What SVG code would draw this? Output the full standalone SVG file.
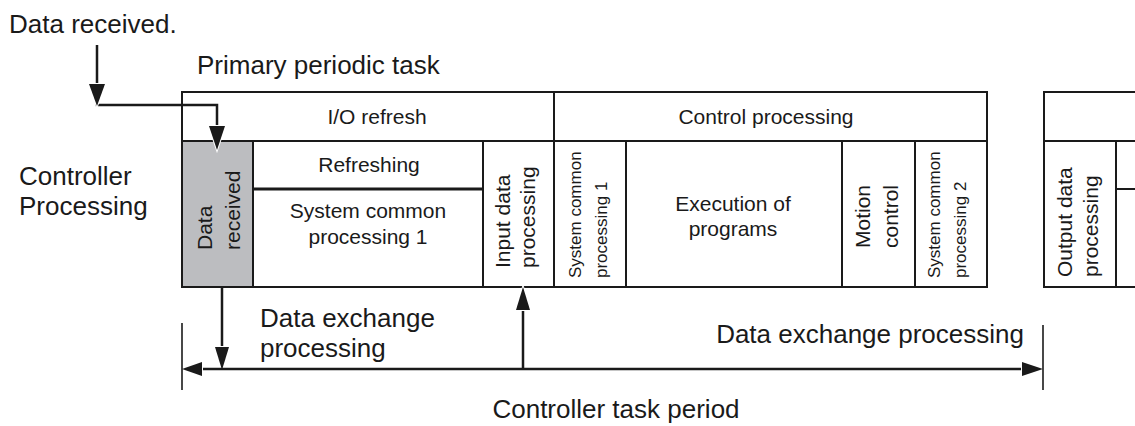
<svg xmlns="http://www.w3.org/2000/svg" width="1135" height="426" viewBox="0 0 1135 426">
<style>
text{font-family:"Liberation Sans",Arial,sans-serif;fill:#1a1a1a}
.big{font-size:26px}
.lbl{font-size:21px}
.sm{font-size:17px}
.c{text-anchor:middle}
.e{text-anchor:end}
.box{fill:#fff;stroke:#1a1a1a;stroke-width:2}
.gray{fill:#bcbdc0;stroke:#1a1a1a;stroke-width:2}
.ln{fill:none;stroke:#1a1a1a;stroke-width:2}
.cn{fill:none;stroke:#1a1a1a;stroke-width:2.5}
.tick{fill:none;stroke:#1a1a1a;stroke-width:1.6}
.ah{fill:#1a1a1a;stroke:#fff;stroke-width:2;paint-order:stroke}
</style>
<rect width="1135" height="426" fill="#fff"/>
<g id="labels">
<text class="big" x="9" y="33">Data received.</text>
<text class="big" x="197" y="74">Primary periodic task</text>
<text class="big" x="19" y="185">Controller</text>
<text class="big" x="19" y="215">Processing</text>
</g>
<g id="io-refresh">
<rect class="box" x="182" y="92" width="372" height="49"/>
<text class="lbl c" x="377" y="124">I/O refresh</text>
</g>
<g id="data-received">
<rect class="gray" x="182" y="141" width="71" height="146"/>
<text class="lbl" transform="translate(212,250) rotate(-90)">Data</text>
<text class="lbl" transform="translate(240,250) rotate(-90)">received</text>
</g>
<g id="refreshing">
<rect class="box" x="253" y="141" width="230" height="48"/>
<text class="lbl c" x="369" y="172">Refreshing</text>
</g>
<g id="system-common-1a">
<rect class="box" x="253" y="189" width="230" height="98"/>
<text class="lbl c" x="368" y="218">System common</text>
<text class="lbl c" x="368" y="244">processing 1</text>
</g>
<line x1="253" y1="189" x2="483" y2="189" stroke="#1a1a1a" stroke-width="3"/>
<g id="input-data">
<rect class="box" x="483" y="141" width="71" height="146"/>
<text class="lbl" transform="translate(510,268) rotate(-90)">Input data</text>
<text class="lbl" transform="translate(535,268) rotate(-90)">processing</text>
</g>
<g id="control-processing">
<rect class="box" x="554" y="92" width="433" height="49"/>
<text class="lbl c" x="766" y="124">Control processing</text>
</g>
<g id="system-common-1b">
<rect class="box" x="554" y="141" width="72" height="146"/>
<text class="sm" transform="translate(581,278) rotate(-90)">System common</text>
<text class="sm" transform="translate(607,278) rotate(-90)">processing 1</text>
</g>
<g id="execution">
<rect class="box" x="626" y="141" width="216" height="146"/>
<text class="lbl c" x="733" y="211">Execution of</text>
<text class="lbl c" x="733" y="236">programs</text>
</g>
<g id="motion-control">
<rect class="box" x="842" y="141" width="73" height="146"/>
<text class="lbl" transform="translate(870,248) rotate(-90)">Motion</text>
<text class="lbl" transform="translate(898,248) rotate(-90)">control</text>
</g>
<g id="system-common-2">
<rect class="box" x="915" y="141" width="72" height="146"/>
<text class="sm" transform="translate(940,278) rotate(-90)">System common</text>
<text class="sm" transform="translate(966,278) rotate(-90)">processing 2</text>
</g>
<g id="next-period">
<path class="ln" d="M1140,92 H1044 V287 H1140 M1044,141 H1140 M1116,141 V287 M1116,189 H1140"/>
<text class="lbl" transform="translate(1072,277) rotate(-90)">Output data</text>
<text class="lbl" transform="translate(1098,277) rotate(-90)">processing</text>
</g>
<g id="connectors">
<polyline class="cn" points="97,45 97,105 217,105 217,128"/>
<polygon class="ah" points="89,84 105,84 97,106"/>
<polygon class="ah" points="209,126 225,126 217,150"/>
<line class="cn" x1="222" y1="288" x2="222" y2="350"/>
<polygon class="ah" points="215,347 229,347 222,370"/>
<line class="cn" x1="523" y1="369" x2="523" y2="305"/>
<polygon class="ah" points="516,310 530,310 523,287"/>
<line class="cn" x1="195" y1="369" x2="1030" y2="369"/>
<polygon class="ah" points="182,369 202,362 202,376"/>
<polygon class="ah" points="1043,369 1022,362 1022,376"/>
<line class="tick" x1="182" y1="323" x2="182" y2="390"/>
<line class="tick" x1="1043" y1="325" x2="1043" y2="390"/>
</g>
<g id="bottom-labels">
<text class="big" x="260" y="327">Data exchange</text>
<text class="big" x="260" y="357">processing</text>
<text class="big e" x="1024" y="343">Data exchange processing</text>
<text class="big c" x="616" y="418">Controller task period</text>
</g>
</svg>
